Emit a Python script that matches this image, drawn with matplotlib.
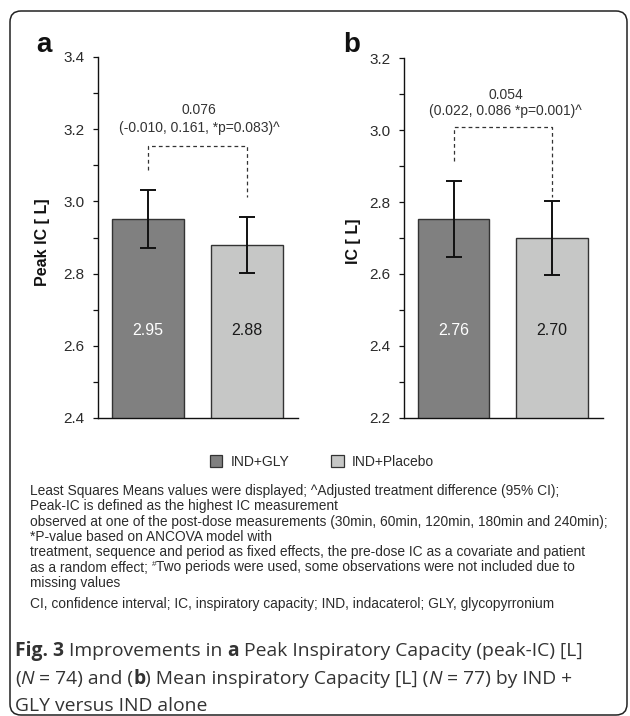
import matplotlib
matplotlib.use("Agg")
import matplotlib.pyplot as plt
from matplotlib.patches import FancyBboxPatch, Patch
from matplotlib.ticker import MultipleLocator

# ---------------- data ----------------
groups = ["IND+GLY", "IND+Placebo"]
peak_ic_means = [2.951, 2.879]
peak_ic_err = [0.080, 0.078]
peak_ic_labels = ["2.95", "2.88"]
peak_ic_diff = ["0.076", "(-0.010, 0.161, *p=0.083)^"]
peak_ic_bracket = [3.154, 3.087, 3.013]   # top, left leg end, right leg end

ic_means = [2.753, 2.700]
ic_err = [0.105, 0.104]
ic_labels = ["2.76", "2.70"]
ic_diff = ["0.054", "(0.022, 0.086 *p=0.001)^"]
ic_bracket = [3.009, 2.914, 2.815]

bar_colors = ["#808080", "#c6c7c6"]
value_colors = ["white", "#1a1a1a"]

footnotes = [
    [("Least Squares Means values were displayed; ^Adjusted treatment difference (95% CI);", "n")],
    [("Peak-IC is defined as the highest IC measurement", "n")],
    [("observed at one of the post-dose measurements (30min, 60min, 120min, 180min and 240min);", "n")],
    [("*P-value based on ANCOVA model with", "n")],
    [("treatment, sequence and period as fixed effects, the pre-dose IC as a covariate and patient", "n")],
    [("as a random effect; ", "n"), ("#", "sup"),
     ("Two periods were used, some observations were not included due to", "n")],
    [("missing values", "n")],
]
abbrev = "CI, confidence interval; IC, inspiratory capacity; IND, indacaterol; GLY, glycopyrronium"

W, H = 630, 716
plt.rcParams["font.family"] = ["Liberation Sans", "DejaVu Sans"]
fig = plt.figure(figsize=(W / 100, H / 100), dpi=100)
renderer = fig.canvas.get_renderer()

TXT = "#2b2b2b"

def px_axes(x0, x1, ytop, ybot):
    return fig.add_axes([x0 / W, (H - ybot) / H, (x1 - x0) / W, (ybot - ytop) / H])

def panel(ax, means, errs, labels, diff, bracket, ylim, xlim, text_x, text_y, val_y):
    x = [0, 1]
    ax.bar(x, means, width=0.73, color=bar_colors, edgecolor="#333333", linewidth=1.0,
           bottom=0, zorder=2)
    ax.errorbar(x, means, yerr=errs, fmt="none", ecolor="#111111", elinewidth=1.4,
                capsize=6, capthick=1.4, zorder=3)
    for xi, lab, c in zip(x, labels, value_colors):
        ax.text(xi, val_y, lab, ha="center", va="center", fontsize=11.5, color=c, zorder=4)
    top, l_end, r_end = bracket
    ax.plot([0, 0, 1, 1], [l_end, top, top, r_end], ls=(0, (3, 2.5)), color="#333333",
            lw=0.9, zorder=3)
    ax.text(text_x, text_y[0], diff[0], ha="center", va="center", fontsize=10, color="#333333")
    ax.text(text_x, text_y[1], diff[1], ha="center", va="center", fontsize=10, color="#333333")
    ax.set_ylim(*ylim)
    ax.set_xlim(*xlim)
    ax.yaxis.set_major_locator(MultipleLocator(0.2))
    ax.yaxis.set_minor_locator(MultipleLocator(0.1))
    ax.yaxis.set_major_formatter(matplotlib.ticker.FormatStrFormatter("%.1f"))
    ax.tick_params(axis="y", which="both", direction="out", length=3.5, width=0.9,
                   labelsize=11, labelcolor=TXT, pad=6, color="#111111")
    ax.set_xticks([])
    for s in ["top", "right"]:
        ax.spines[s].set_visible(False)
    for s in ["left", "bottom"]:
        ax.spines[s].set_linewidth(1.0)
        ax.spines[s].set_color("#111111")
    ax.patch.set_alpha(0)

axA = px_axes(97.7, 298, 57, 418)
panel(axA, peak_ic_means, peak_ic_err, peak_ic_labels, peak_ic_diff, peak_ic_bracket,
      (2.4, 3.4), (-0.508, 1.515), 0.515, (3.253, 3.204), 2.642)
axB = px_axes(404, 603, 58.3, 417.7)
panel(axB, ic_means, ic_err, ic_labels, ic_diff, ic_bracket,
      (2.2, 3.2), (-0.503, 1.518), 0.53, (3.098, 3.053), 2.443)

# panel letters and y labels
fig.text(43.8 / W, 1 - 51.7 / H, "a", fontsize=20, fontweight="bold", ha="center",
         va="baseline", color="#111111")
fig.text(351.7 / W, 1 - 51.7 / H, "b", fontsize=20, fontweight="bold", ha="center",
         va="baseline", color="#111111")
fig.text(43 / W, 1 - 242 / H, "Peak IC [ L]", rotation=90, fontsize=11.5, fontweight="bold",
         ha="center", va="center", color="#111111")
fig.text(353.3 / W, 1 - 241 / H, "IC [ L]", rotation=90, fontsize=11.5, fontweight="bold",
         ha="center", va="center", color="#111111")

# legend
handles = [Patch(facecolor=c, edgecolor="#333333", linewidth=0.9) for c in bar_colors]
fig.legend(handles, groups, loc="center", bbox_to_anchor=(322 / W, 1 - 462 / H), ncol=2,
           frameon=False, fontsize=10, handlelength=0.9, handleheight=0.9,
           handletextpad=0.6, columnspacing=3.0, labelcolor=TXT)

# helpers for runs of text
def width_of(s, fs, fam, style):
    t = fig.text(0, 0, s, fontsize=fs, family=fam, **style)
    w = t.get_window_extent(renderer).width
    t.remove()
    return w

def advance(s, fs, fam, style):
    return width_of(s + "|", fs, fam, style) - width_of("|", fs, fam, style)

def draw_runs(runs, x0, ybase, fs, fam, color):
    x = x0
    for txt, style, scale, rise in runs:
        f = fs * scale
        fig.text(x / W, 1 - (ybase - rise) / H, txt, fontsize=f, family=fam,
                 ha="left", va="baseline", color=color, **style)
        x += advance(txt, f, fam, style)

# footnotes
FN_FS = 9.9
FN_FAM = ["Liberation Sans", "DejaVu Sans"]
y0, dy = 495, 15.3
for i, line in enumerate(footnotes):
    runs = []
    for txt, kind in line:
        if kind == "sup":
            runs.append((txt, {}, 0.6, 5))
        else:
            runs.append((txt, {}, 1.0, 0))
    draw_runs(runs, 30, y0 + i * dy, FN_FS, FN_FAM, TXT)
fig.text(30 / W, 1 - 608 / H, abbrev, fontsize=FN_FS, ha="left", va="baseline", color=TXT)

# caption with mixed styles
CAP_FS = 13.9
CAP_FAM = ["Open Sans", "DejaVu Sans"]
B = {"fontweight": "bold"}
N = {}
I = {"fontstyle": "italic"}
cap_lines = [
    [("Fig. 3", B), (" Improvements in ", N), ("a", B),
     (" Peak Inspiratory Capacity (peak-IC) [L]", N)],
    [("(", N), ("N", I), (" = 74) and (", N), ("b", B),
     (") Mean inspiratory Capacity [L] (", N), ("N", I), (" = 77) by IND +", N)],
    [("GLY versus IND alone", N)],
]
for runs, yb in zip(cap_lines, [656, 684, 711]):
    draw_runs([(t, s, 1.0, 0) for t, s in runs], 15, yb, CAP_FS, CAP_FAM, "#333333")

# rounded frame
frame = FancyBboxPatch((0.10, 0.01), 6.17, 7.04, boxstyle="round,pad=0,rounding_size=0.11",
                       transform=fig.dpi_scale_trans, facecolor="none", edgecolor="#222222",
                       linewidth=1.1)
fig.patches.append(frame)

fig.savefig("out.png", dpi=100)
